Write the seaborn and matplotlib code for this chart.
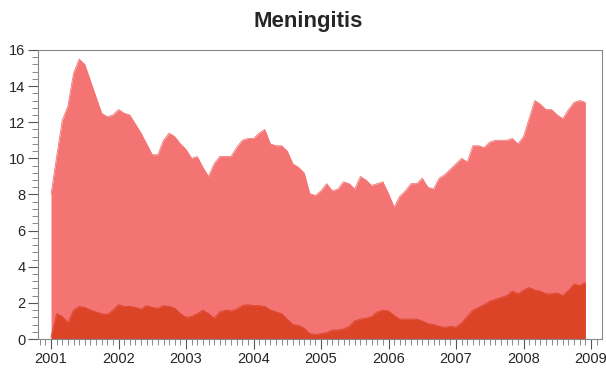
import numpy as np
import pandas as pd
import matplotlib
matplotlib.use("Agg")
import matplotlib.pyplot as plt
import seaborn as sns
from matplotlib.ticker import MultipleLocator

# monthly series, Jan 2001 .. Dec 2008
total_cases = [
    8.0, 10.1, 12.1, 12.9, 14.7, 15.5, 15.2, 14.3, 13.4, 12.5, 12.3, 12.4,
    12.7, 12.5, 12.4, 11.9, 11.4, 10.8, 10.2, 10.2, 11.0, 11.4, 11.2, 10.8,
    10.5, 10.0, 10.1, 9.5, 9.0, 9.7, 10.1, 10.1, 10.1, 10.6, 11.0, 11.1,
    11.1, 11.4, 11.6, 10.8, 10.7, 10.7, 10.4, 9.7, 9.5, 9.2, 8.05, 7.95,
    8.2, 8.6, 8.2, 8.3, 8.7, 8.6, 8.3, 9.0, 8.8, 8.5, 8.6, 8.7,
    8.05, 7.3, 7.9, 8.2, 8.6, 8.6, 8.9, 8.4, 8.3, 8.9, 9.1, 9.4,
    9.7, 10.0, 9.8, 10.7, 10.7, 10.6, 10.9, 11.0, 11.0, 11.0, 11.1, 10.8,
    11.2, 12.2, 13.2, 13.0, 12.7, 12.7, 12.4, 12.2, 12.7, 13.1, 13.2, 13.1,
]
subset_cases = [
    0.1, 1.4, 1.25, 0.9, 1.6, 1.8, 1.75, 1.6, 1.5, 1.4, 1.35, 1.6,
    1.9, 1.8, 1.8, 1.75, 1.65, 1.85, 1.75, 1.7, 1.85, 1.8, 1.7, 1.4,
    1.2, 1.25, 1.4, 1.6, 1.4, 1.15, 1.5, 1.6, 1.55, 1.65, 1.85, 1.9,
    1.85, 1.85, 1.8, 1.6, 1.5, 1.4, 1.1, 0.8, 0.75, 0.6, 0.3, 0.25,
    0.3, 0.35, 0.5, 0.5, 0.55, 0.7, 1.0, 1.1, 1.15, 1.25, 1.5, 1.6,
    1.55, 1.3, 1.1, 1.1, 1.1, 1.1, 1.0, 0.85, 0.8, 0.7, 0.65, 0.7,
    0.65, 0.9, 1.25, 1.6, 1.75, 1.9, 2.1, 2.2, 2.3, 2.4, 2.65, 2.5,
    2.7, 2.85, 2.7, 2.65, 2.5, 2.5, 2.55, 2.4, 2.7, 3.05, 2.95, 3.15,
]
year_ticks = list(range(2001, 2010))

months = pd.date_range("2001-01-01", periods=len(total_cases), freq="MS")
df = pd.DataFrame({
    "t": months.year + (months.month - 1) / 12,
    "total": total_cases,
    "subset": subset_cases,
})

sns.set_style("ticks")
plt.rcParams["font.family"] = ["Liberation Sans", "DejaVu Sans"]

light = "#f47474"
dark = "#dc4428"

fig = plt.figure(figsize=(6.06, 3.69), dpi=100)
ax = fig.add_axes([0.0627, 0.0813, 0.9307, 0.7832])

sns.lineplot(data=df, x="t", y="total", ax=ax, color=light, linewidth=0.6)
sns.lineplot(data=df, x="t", y="subset", ax=ax, color=dark, linewidth=0.6)
ax.fill_between(df["t"], 0, df["total"], color=light, linewidth=0)
ax.fill_between(df["t"], 0, df["subset"], color=dark, linewidth=0)

ax.set_xlim(2000.807, 2009.163)
ax.set_ylim(0, 16)
ax.set_xticks(year_ticks)
ax.xaxis.set_minor_locator(MultipleLocator(1 / 12))
ax.yaxis.set_major_locator(MultipleLocator(2))
ax.yaxis.set_minor_locator(MultipleLocator(0.4))
ax.tick_params(which="major", length=7, width=0.8, color="#555555", labelsize=10.5, pad=2)
ax.tick_params(which="minor", length=4, width=0.6, color="#777777")
ax.set_xlabel("")
ax.set_ylabel("")

for side in ["top", "right", "left", "bottom"]:
    ax.spines[side].set_visible(True)
    ax.spines[side].set_color("#888888")
    ax.spines[side].set_linewidth(0.8)

fig.suptitle("Meningitis", x=0.508, y=1 - 11 / 369, va="top",
             fontsize=16, fontweight="bold")

fig.savefig("out.png", dpi=100)
